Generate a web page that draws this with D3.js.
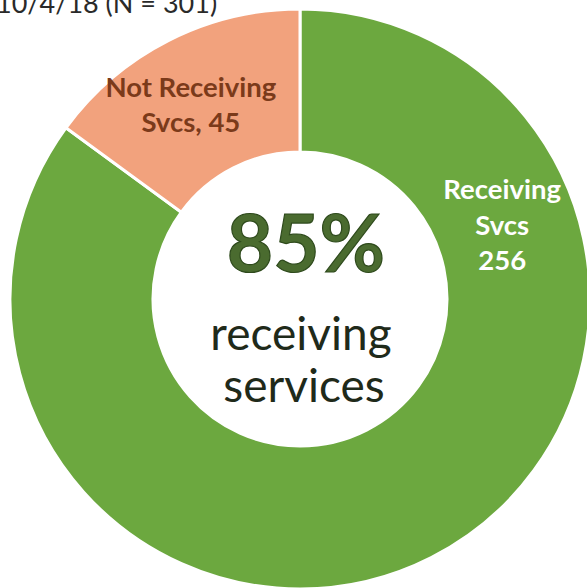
<!DOCTYPE html>
<html>
<head>
<meta charset="utf-8">
<script src="https://cdn.jsdelivr.net/npm/d3@7"></script>
<style>
  html, body { margin: 0; padding: 0; background: #ffffff; }
  svg { display: block; }
</style>
</head>
<body>
<svg id="chart" width="587" height="588"></svg>
<script>
// Service status counts, 10/4/18
const categories = ["Receiving Svcs", "Not Receiving Svcs"];
const counts = [256, 45];
const sliceLabels = [["Receiving", "Svcs", "256"], ["Not Receiving", "Svcs, 45"]];
const titleText = "10/4/18 (N = 301)";
const centerLines = ["85%", "receiving", "services"];

const W = 587, H = 588;
const cx = 300, cy = 299;
const outerR = 290, innerR = 147;

const colors = d3.scaleOrdinal().domain(categories).range(["#6ca83f", "#f2a27d"]);
const labelColors = d3.scaleOrdinal().domain(categories).range(["#ffffff", "#7b3a1a"]);

const svg = d3.select("#chart");
const fontFamily = "Lato, 'Open Sans', sans-serif";

const data = categories.map((c, i) => ({ cat: c, value: counts[i], lines: sliceLabels[i] }));

const pie = d3.pie().value(d => d.value).sort(null);
const arcs = pie(data);
const arc = d3.arc().innerRadius(innerR).outerRadius(outerR);

const g = svg.append("g").attr("transform", `translate(${cx},${cy})`);

g.selectAll("path.slice")
  .data(arcs)
  .join("path")
  .attr("class", "slice")
  .attr("d", arc)
  .attr("fill", d => colors(d.data.cat))
  .attr("stroke", "#ffffff")
  .attr("stroke-width", 3)
  .attr("stroke-linejoin", "round");

// slice label anchors: angle (radians, clockwise from 12 o'clock) and radius
const labelPos = {
  "Receiving Svcs": { angle: 1.224, r: 215 },
  "Not Receiving Svcs": { angle: -0.514, r: 222 }
};

const lineGap = 35.5;
arcs.forEach(a => {
  const cat = a.data.cat;
  const p = labelPos[cat];
  const x = Math.sin(p.angle) * p.r;
  const y = -Math.cos(p.angle) * p.r;
  const lines = a.data.lines;
  const t = g.append("text")
    .attr("text-anchor", "middle")
    .attr("font-family", fontFamily)
    .attr("font-weight", 700)
    .attr("font-size", 27.5)
    .attr("fill", labelColors(cat));
  const y0 = y - ((lines.length - 1) * lineGap) / 2 + 9;
  lines.forEach((ln, i) => {
    t.append("tspan").attr("x", x).attr("y", y0 + i * lineGap).text(ln);
  });
});

// centre text
const total = d3.sum(counts);
g.append("text")
  .attr("x", 6).attr("y", -27)
  .attr("text-anchor", "middle")
  .attr("font-family", fontFamily)
  .attr("font-weight", 700)
  .attr("font-size", 80)
  .attr("fill", "#4a6b2f")
  .attr("stroke", "#2e4a1c")
  .attr("stroke-width", 1.2)
  .text(d3.format(".0%")(counts[0] / total));

g.append("text")
  .attr("x", 1).attr("y", 51)
  .attr("text-anchor", "middle")
  .attr("font-family", fontFamily)
  .attr("font-size", 46)
  .attr("fill", "#1f2a1a")
  .text(centerLines[1]);

g.append("text")
  .attr("x", 4).attr("y", 103)
  .attr("text-anchor", "middle")
  .attr("font-family", fontFamily)
  .attr("font-size", 46)
  .attr("fill", "#1f2a1a")
  .text(centerLines[2]);

// title, partly above the top edge
svg.append("text")
  .attr("x", -4).attr("y", 13)
  .attr("font-family", fontFamily)
  .attr("font-size", 27)
  .attr("fill", "#2a2a2a")
  .text(titleText);
</script>
</body>
</html>
